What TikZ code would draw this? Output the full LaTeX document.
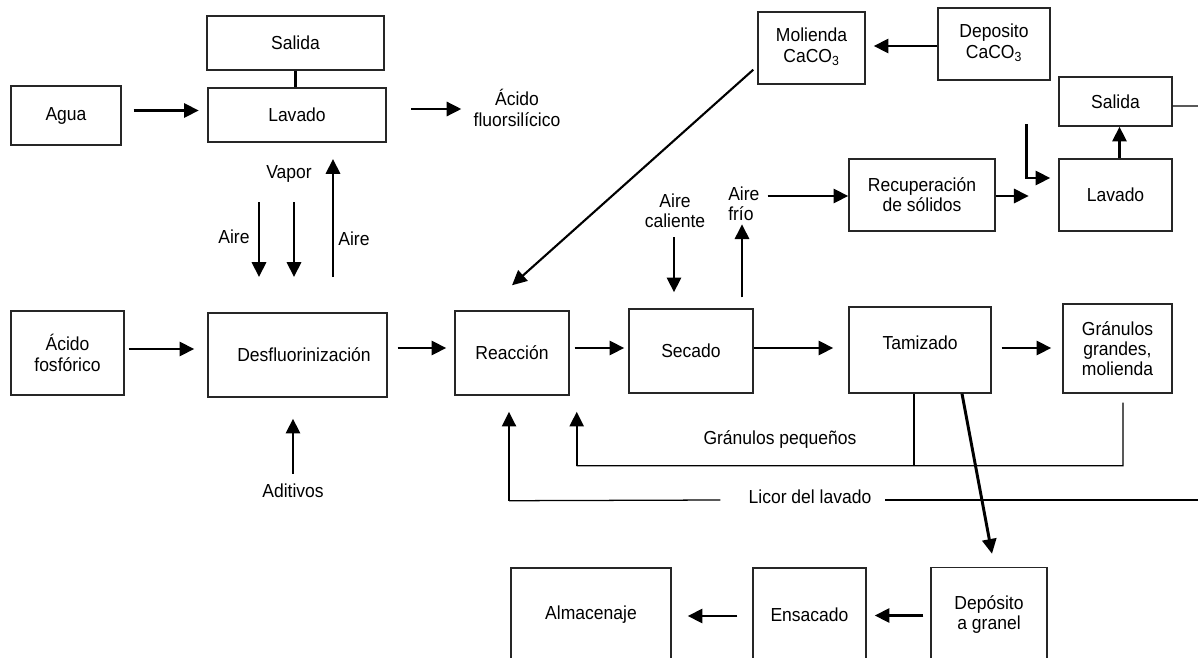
\documentclass[tikz,border=0pt]{standalone}
\usepackage{fontspec}
\setmainfont{Liberation Sans}[FakeStretch=0.93]
\usetikzlibrary{arrows.meta,calc}
\begin{document}
\begin{tikzpicture}[x=0.025cm, y=-0.025cm,
    every node/.style={font=\fontsize{13.4}{14.4}\selectfont, inner sep=0pt, align=center},
    box/.style={draw=black!85, line width=1pt},
    arr/.style={line width=2.1pt, -{Triangle[length=10.5pt,width=10pt]}},
    uparr/.style={line width=1.7pt, -{Triangle[length=10.5pt,width=10pt]}},
    feed/.style={line width=0.9pt}]
    \useasboundingbox (0,0) rectangle (1198,658);
    % Top left: washing of the gases
    \node[box, minimum width=2.75cm, minimum height=1.475cm] (agua) at (66,115.5) {Agua};
    \node[box, minimum width=4.425cm, minimum height=1.35cm] (salidaA) at (295.5,43) {Salida};
    \node[box, line width=1.7pt, minimum width=4.45cm, minimum height=1.35cm] (lavadoA) at (297,115) {Lavado};
    \node (fluor) at (517,108) {Ácido\\fluorsilícico};
    \draw[arr] ($(agua.east)+(12,-5)$) -- ($(lavadoA.west |- agua.east)+(-8,-5)$);
    \draw[line width=1.6pt] (salidaA.south) -- (salidaA.south |- lavadoA.north);
    \draw[arr] ($(lavadoA.east)+(24,-6)$) -- ($(fluor.west |- lavadoA.east)+(-12,-6)$);
    % Air and vapour between washing and desfluorination
    \node (vapor) at (289,174) {Vapor};
    \node (aire1) at (234,237) {Aire};
    \node (aire2) at (354,239) {Aire};
    \coordinate (aire1a) at (259,202);
    \coordinate (aire1b) at (259,277);
    \coordinate (vap1a) at (294,202);
    \coordinate (vap1b) at (294,277);
    \coordinate (aire2a) at (333,277);
    \coordinate (aire2b) at (333,159);
    \draw[arr] (aire1a) -- (aire1b);
    \draw[arr] (vap1a) -- (vap1b);
    \draw[arr] (aire2a) -- (aire2b);
    % Middle row
    \node[box, minimum width=2.825cm, minimum height=2.1cm] (acidoF) at (67.5,353) {Ácido\\fosfórico};
    \node[box, minimum width=4.475cm, minimum height=2.1cm] (desf) at (297.5,355) {\hspace{3.25mm}Desfluorinización};
    \node[box, minimum width=2.85cm, minimum height=2.1cm] (reac) at (512,353) {Reacción};
    \node[box, minimum width=3.1cm, minimum height=2.1cm] (secado) at (691,351) {Secado};
    \node[box, minimum width=3.55cm, minimum height=2.15cm, text depth=3.5mm] (tamiz) at (920,350) {Tamizado};
    \node[box, minimum width=2.725cm, minimum height=2.225cm] (granG) at (1117.5,348.5) {Gránulos\\grandes,\\molienda};
    \draw[arr] ($(acidoF.east)+(4,-4)$) -- ($(desf.west |- acidoF.east)+(-13,-4)$);
    \draw[arr] ($(desf.east)+(10,-7)$) -- ($(reac.west |- desf.east)+(-8,-7)$);
    \draw[arr] ($(reac.east)+(5,-5)$) -- ($(secado.west |- reac.east)+(-4,-5)$);
    \draw[arr] ($(secado.east)+(0,-3)$) -- ($(tamiz.west |- secado.east)+(-15,-3)$);
    \draw[arr] ($(tamiz.east)+(10,-2)$) -- ($(granG.west |- tamiz.east)+(-11,-2)$);
    \node (adit) at (293,491) {Aditivos};
    \draw[arr] ($(adit.north)+(0,-10)$) -- ($(desf.south -| adit.north)+(0,21)$);
    % Calcium carbonate feed
    \node[box, minimum width=2.675cm, minimum height=1.8cm] (molienda) at (811.5,48) {\raisebox{3mm}{\begin{tabular}{@{}c@{}}Molienda\\CaCO\textsubscript{3}\end{tabular}}};
    \node[box, minimum width=2.8cm, minimum height=1.8cm] (depC) at (994,44) {\raisebox{3mm}{\begin{tabular}{@{}c@{}}Deposito\\CaCO\textsubscript{3}\end{tabular}}};
    \draw[arr] ($(depC.west)+(0,2)$) -- ($(molienda.east |- depC.west)+(8,2)$);
    \draw[line width=1.5pt, -{Triangle[length=10.5pt,width=10pt]}] ($(molienda.south west)+(-4,-15)$) -- ($(reac.north)+(0,-25)$);
    % Drying air and solids recovery
    \node (aireC) at (675,211) {Aire\\caliente};
    \node[align=left, anchor=west] (aireF) at (728,204) {Aire\\frío};
    \node[box, minimum width=3.65cm, minimum height=1.8cm] (recup) at (922,195) {Recuperación\\de sólidos};
    \node[box, minimum width=2.825cm, minimum height=1.8cm] (lavadoB) at (1115.5,195) {Lavado};
    \node[box, minimum width=2.825cm, minimum height=1.225cm] (salidaB) at (1115.5,101.5) {Salida};
    \coordinate (edgeR) at (1198,106);
    \draw[arr] ($(secado.north)+(-17,-71)$) -- ($(secado.north)+(-17,-16)$);
    \draw[arr] ($(secado.north)+(51,-11)$) -- ($(secado.north)+(51,-84)$);
    \draw[arr] ($(aireF.east)+(8,-8)$) -- ($(recup.west |- aireF.east)+(0,-8)$);
    \draw[arr] ($(recup.east)+(0,1)$) -- ($(recup.east)+(33,1)$);
    \draw[arr] ($(lavadoB.west)+(-32,-71)$) -- ($(lavadoB.west)+(-32,-17)$) -- ($(lavadoB.west)+(-8,-17)$);
    \draw[arr] ($(lavadoB.north)+(4,0)$) -- ($(salidaB.south)+(4,0)$);
    \draw[feed] ($(salidaB.east)+(0,4.5)$) -- (edgeR);
    % Small granules back to drying
    \node (granP) at (780,440) {Gránulos pequeños};
    \draw[feed] ($(tamiz.south)+(-6,0)$) -- ($(tamiz.south)+(-6,72)$);
    \draw[feed] ($(granG.south)+(5.5,9)$) -- ($(granG.south)+(5.5,72)$) -- ($(reac.south east)+(7,70)$);
    \draw[uparr] ($(reac.south east)+(7,70)$) -- ($(reac.south east)+(7,16)$);
    % Washing liquor back to reaction
    \node (licor) at (810,497) {Licor del lavado};
    \coordinate (edgeL) at (1198,500);
    \draw[feed] (edgeL) -- ($(licor.east)+(13,3)$);
    \draw[feed] ($(licor.west)+(-28,3)$) -- ($(reac.south)+(-3,105)$);
    \draw[uparr] ($(reac.south)+(-3,105)$) -- ($(reac.south)+(-3,16)$);
    % Bottom row: product handling
    \node[box, minimum width=4cm, minimum height=2.35cm] (almac) at (591,615) {Almacenaje};
    \node[box, minimum width=2.825cm, minimum height=2.35cm] (ensac) at (809.5,615) {Ensacado};
    \node[box, minimum width=2.9cm, minimum height=2.35cm] (depG) at (989,614.5) {Depósito\\a granel};
    \draw[arr] ($(tamiz.south)+(42,0)$) -- ($(depG.north)+(3,-13)$);
    \draw[arr] ($(depG.west)+(-7,1)$) -- ($(ensac.east |- depG.west)+(8,1)$);
    \draw[arr] ($(ensac.west)+(-15,1)$) -- ($(almac.east |- ensac.west)+(16,1)$);
\end{tikzpicture}
\end{document}
